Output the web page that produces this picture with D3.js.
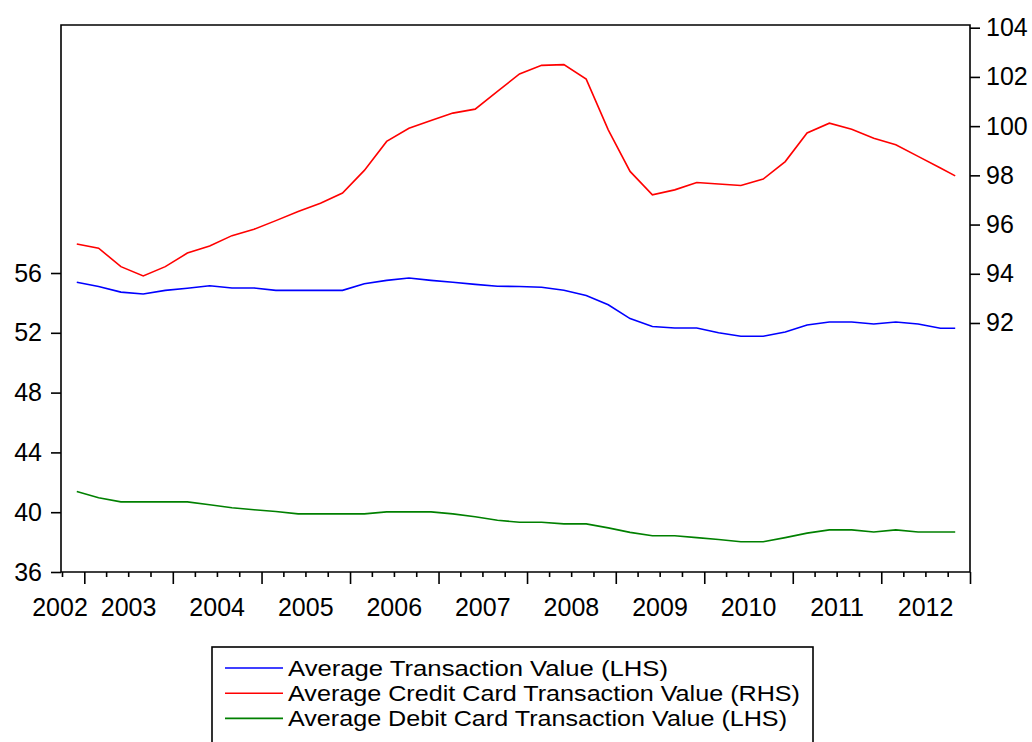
<!DOCTYPE html>
<html>
<head>
<meta charset="utf-8">
<style>
  body { margin: 0; background: #fff; }
  text { font-family: "Liberation Sans", Arial, sans-serif; fill: #000; }
</style>
</head>
<body>
<svg id="chart"></svg>

<script src="https://cdn.jsdelivr.net/npm/d3@7"></script>
<script>
var W = 1032, H = 742;

// quarterly readings, Dec 2002 .. Nov 2012
var months = ["2002-12","2003-03","2003-06","2003-09","2003-12","2004-03","2004-06","2004-09","2004-12",
  "2005-03","2005-06","2005-09","2005-12","2006-03","2006-06","2006-09","2006-12",
  "2007-03","2007-06","2007-09","2007-12","2008-03","2008-06","2008-09","2008-12",
  "2009-03","2009-06","2009-09","2009-12","2010-03","2010-06","2010-09","2010-12",
  "2011-03","2011-06","2011-09","2011-12","2012-03","2012-06","2012-09","2012-11"];

var avgTransaction = [55.38,55.10,54.72,54.60,54.84,54.98,55.15,55.00,55.00,
  54.84,54.84,54.84,54.84,55.28,55.51,55.67,55.51,
  55.38,55.24,55.11,55.10,55.05,54.85,54.50,53.88,
  52.95,52.42,52.32,52.32,52.00,51.77,51.77,52.05,
  52.52,52.72,52.72,52.59,52.72,52.59,52.30,52.30];

var avgCredit = [95.21,95.04,94.29,93.91,94.29,94.84,95.13,95.55,95.81,
  96.16,96.53,96.87,97.28,98.20,99.38,99.91,100.23,
  100.53,100.69,101.41,102.12,102.47,102.50,101.91,99.85,
  98.16,97.21,97.41,97.71,97.65,97.59,97.85,98.56,
  99.72,100.12,99.87,99.51,99.24,98.77,98.30,97.98];

var avgDebit = [41.38,40.97,40.69,40.69,40.69,40.69,40.50,40.30,40.16,
  40.05,39.89,39.89,39.89,39.89,40.02,40.02,40.02,
  39.89,39.70,39.46,39.33,39.33,39.22,39.22,38.95,
  38.65,38.42,38.42,38.30,38.17,38.02,38.02,38.30,
  38.60,38.82,38.82,38.68,38.82,38.68,38.68,38.68];

var years = [2002,2003,2004,2005,2006,2007,2008,2009,2010,2011,2012];
var leftTicks = [36,40,44,48,52,56];
var rightTicks = [92,94,96,98,100,102,104];

var seriesNames = ["Average Transaction Value (LHS)",
  "Average Credit Card Transaction Value (RHS)",
  "Average Debit Card Transaction Value (LHS)"];
var seriesColors = ["#0000ff", "#ff0000", "#008000"];
var legendWidths = [380, 512, 499];

var FS = "25px";
var L = 61, R = 970, T = 25, B = 572;
var parseMonth = d3.timeParse("%Y-%m");
var dates = months.map(parseMonth);

var x = d3.scaleTime()
  .domain([new Date(2002, 9, 1), new Date(2013, 0, 1)])
  .range([L + 1, R]);
var yL = d3.scaleLinear().domain([36, 72.59]).range([B, T]);
var yR = d3.scaleLinear().domain([81.88, 104.11]).range([B, T]);

var svg = d3.select("#chart").attr("width", W).attr("height", H);

// frame
svg.append("path")
  .attr("d", "M" + L + "," + B + "V" + T + "H" + R + "V" + B + "H" + L)
  .style("fill", "none").style("stroke", "#000").style("stroke-width", 1.6);

// left axis
var gL = svg.append("g").attr("transform", "translate(" + L + ",0)")
  .call(d3.axisLeft(yL).tickValues(leftTicks).tickSize(10).tickPadding(9).tickFormat(d3.format("d")));
// right axis
var gR = svg.append("g").attr("transform", "translate(" + R + ",0)")
  .call(d3.axisRight(yR).tickValues(rightTicks).tickSize(10).tickPadding(6).tickFormat(d3.format("d")));
// bottom axis: quarter ticks, long ticks on years
var quarters = d3.timeMonth.every(3).range(new Date(2002, 9, 1), new Date(2013, 0, 2));
var gB = svg.append("g").attr("transform", "translate(0," + B + ")")
  .call(d3.axisBottom(x).tickValues(quarters).tickSize(5).tickFormat(""));
gB.selectAll(".tick line").attr("y2", function(d) { return d.getMonth() === 0 ? 12 : 5; });

[gL, gR, gB].forEach(function(g) {
  g.select(".domain").remove();
  g.selectAll(".tick line").style("stroke", "#000").style("stroke-width", 1.6);
  g.selectAll("text").style("font-size", FS).style("font-family", "Liberation Sans, Arial, sans-serif");
});

// year labels centred in each year
svg.append("g").selectAll("text").data(years).enter().append("text")
  .attr("x", function(d) {
    var a = Math.max(x(new Date(d, 0, 1)), L + 1), b = x(new Date(d + 1, 0, 1));
    return d === years[0] ? L - 1 : (a + b) / 2;
  })
  .attr("y", 616)
  .attr("text-anchor", "middle")
  .style("font-size", FS)
  .text(function(d) { return d; });

// lines
var series = [
  { values: avgTransaction, y: yL },
  { values: avgCredit, y: yR },
  { values: avgDebit, y: yL }
];
series.forEach(function(s, i) {
  var line = d3.line()
    .x(function(d, j) { return x(dates[j]); })
    .y(function(d) { return s.y(d); });
  svg.append("path")
    .datum(s.values)
    .attr("d", line)
    .style("fill", "none")
    .style("stroke", seriesColors[i])
    .style("stroke-width", 1.6);
});

// legend
var leg = svg.append("g");
leg.append("rect")
  .attr("x", 212).attr("y", 647).attr("width", 601).attr("height", 120)
  .style("fill", "none").style("stroke", "#000").style("stroke-width", 1.6);
seriesNames.forEach(function(name, i) {
  var cy = 668 + i * 25.2;
  leg.append("line")
    .attr("x1", 225).attr("x2", 283).attr("y1", cy).attr("y2", cy)
    .style("stroke", seriesColors[i]).style("stroke-width", 1.6);
  leg.append("text")
    .attr("x", 288).attr("y", cy + 8)
    .attr("textLength", legendWidths[i])
    .attr("lengthAdjust", "spacingAndGlyphs")
    .style("font-size", "21.5px")
    .text(name);
});
</script>
</body>
</html>
